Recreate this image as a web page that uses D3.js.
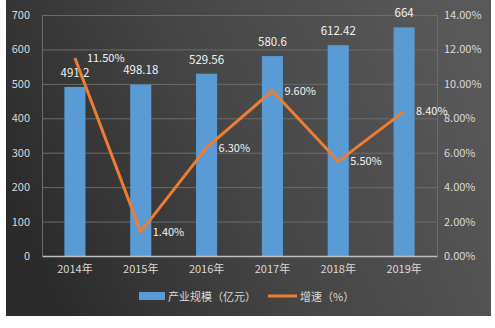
<!DOCTYPE html>
<html>
<head>
<meta charset="utf-8">
<script src="https://cdn.jsdelivr.net/npm/d3@7"></script>
<style>
  html, body { margin: 0; padding: 0; background: #ffffff; }
  svg { display: block; }
  text { font-family: "Noto Sans CJK SC", "Noto Sans", sans-serif; }
</style>
</head>
<body>
<svg id="chart" width="495" height="328"></svg>
<script>
// Industry scale (100M yuan) and annual growth rate
const years = ["2014年", "2015年", "2016年", "2017年", "2018年", "2019年"];
const scaleValues = [491.2, 498.18, 529.56, 580.6, 612.42, 664];
const scaleLabels = ["491.2", "498.18", "529.56", "580.6", "612.42", "664"];
const growthValues = [11.5, 1.4, 6.3, 9.6, 5.5, 8.4];
const growthLabels = ["11.50%", "1.40%", "6.30%", "9.60%", "5.50%", "8.40%"];
const leftTicks = [0, 100, 200, 300, 400, 500, 600, 700];
const rightTicks = [0, 2, 4, 6, 8, 10, 12, 14];
const legendNames = ["产业规模（亿元）", "增速（%）"];

const svg = d3.select("#chart");

// Background panel with a dark gradient
const defs = svg.append("defs");
const grad = defs.append("linearGradient")
  .attr("id", "bg").attr("x1", "0").attr("y1", "0.6").attr("x2", "1").attr("y2", "0.3");
grad.append("stop").attr("offset", "0").attr("stop-color", "#2b2b2b");
grad.append("stop").attr("offset", "0.45").attr("stop-color", "#454545");
grad.append("stop").attr("offset", "1").attr("stop-color", "#595959");
svg.append("rect").attr("x", 6).attr("y", 0).attr("width", 485).attr("height", 316)
  .attr("fill", "url(#bg)");

const plot = { left: 42, right: 437, top: 15, bottom: 256 };

const x = d3.scaleBand().domain(years).range([plot.left, plot.right])
  .paddingInner(0.68).paddingOuter(0.34);
const yL = d3.scaleLinear().domain([0, 700]).range([plot.bottom, plot.top]);
const yR = d3.scaleLinear().domain([0, 14]).range([plot.bottom, plot.top]);

// Gridlines
svg.append("g").selectAll("line").data(leftTicks.slice(1)).join("line")
  .attr("x1", plot.left).attr("x2", plot.right)
  .attr("y1", d => yL(d) + 0.5).attr("y2", d => yL(d) + 0.5)
  .attr("stroke", "#6c6c6c").attr("stroke-width", 1);
// Plot area side borders
svg.append("line").attr("x1", plot.left + 0.5).attr("x2", plot.left + 0.5)
  .attr("y1", plot.top).attr("y2", plot.bottom).attr("stroke", "#6c6c6c");
svg.append("line").attr("x1", plot.right + 0.5).attr("x2", plot.right + 0.5)
  .attr("y1", plot.top).attr("y2", plot.bottom).attr("stroke", "#6c6c6c");

// Left axis
const axL = svg.append("g").attr("transform", `translate(${plot.left},0)`)
  .call(d3.axisLeft(yL).tickValues(leftTicks).tickSize(0).tickPadding(12));
axL.select(".domain").remove();
axL.selectAll("text").attr("fill", "#d9d9d9").style("font-size", "11px");

// Right axis
const axR = svg.append("g").attr("transform", `translate(${plot.right},0)`)
  .call(d3.axisRight(yR).tickValues(rightTicks).tickSize(0).tickPadding(7)
    .tickFormat(d => d.toFixed(2) + "%"));
axR.select(".domain").remove();
axR.selectAll("text").attr("fill", "#d9d9d9").style("font-size", "11px");

// Bars
svg.append("g").selectAll("rect").data(scaleValues).join("rect")
  .attr("x", (d, i) => x(years[i]))
  .attr("y", d => yL(d))
  .attr("width", x.bandwidth())
  .attr("height", d => yL(0) - yL(d))
  .attr("fill", "#5b9bd5");

// Category axis
const axB = svg.append("g").attr("transform", `translate(0,${plot.bottom})`)
  .call(d3.axisBottom(x).tickSize(0).tickPadding(9));
axB.select(".domain").attr("stroke", "#bfbfbf").attr("stroke-width", 1.3);
axB.selectAll("text").attr("fill", "#d9d9d9").style("font-size", "11px");

// Bar value labels
svg.append("g").selectAll("text").data(scaleValues).join("text")
  .attr("x", (d, i) => x(years[i]) + x.bandwidth() / 2)
  .attr("y", d => yL(d) - 10)
  .attr("text-anchor", "middle")
  .attr("fill", "#f2f2f2").style("font-size", "11.5px")
  .text((d, i) => scaleLabels[i]);

// Growth line
const cx = i => x(years[i]) + x.bandwidth() / 2;
const line = d3.line().x((d, i) => cx(i)).y(d => yR(d));
svg.append("path").datum(growthValues)
  .attr("d", line).attr("fill", "none")
  .attr("stroke", "#ed7d31").attr("stroke-width", 3)
  .attr("stroke-linejoin", "round");

// Growth labels
svg.append("g").selectAll("text").data(growthValues).join("text")
  .attr("x", (d, i) => cx(i) + 12)
  .attr("y", d => yR(d) + 4)
  .attr("fill", "#f2f2f2").style("font-size", "11px")
  .text((d, i) => growthLabels[i]);

// Legend
const lg = svg.append("g");
lg.append("rect").attr("x", 139).attr("y", 292).attr("width", 26).attr("height", 8)
  .attr("fill", "#5b9bd5");
lg.append("text").attr("x", 168).attr("y", 301).attr("fill", "#d9d9d9")
  .style("font-size", "11px").text(legendNames[0]);
lg.append("line").attr("x1", 268).attr("x2", 297).attr("y1", 296).attr("y2", 296)
  .attr("stroke", "#ed7d31").attr("stroke-width", 3);
lg.append("text").attr("x", 300).attr("y", 301).attr("fill", "#d9d9d9")
  .style("font-size", "11px").text(legendNames[1]);
</script>
</body>
</html>
